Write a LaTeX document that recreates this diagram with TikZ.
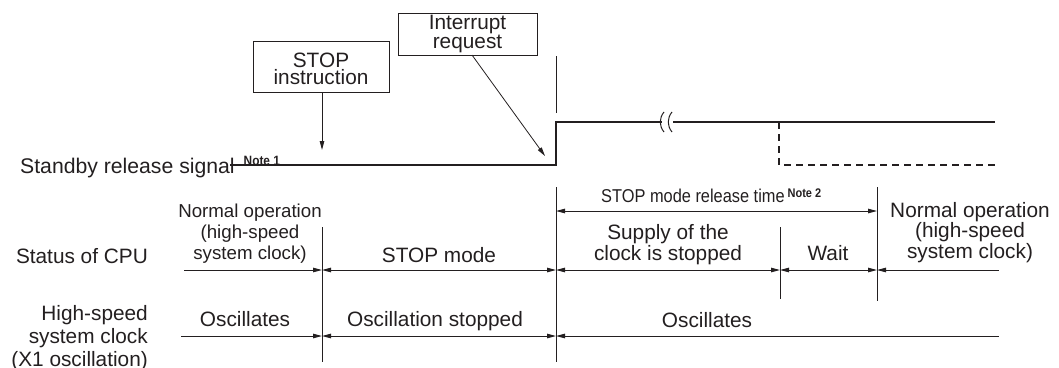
\documentclass[tikz,border=0pt]{standalone}
\usepackage{fontspec}
\setmainfont{Liberation Sans}
\newfontfamily\condfont[FakeStretch=0.88]{Liberation Sans}
\usetikzlibrary{arrows.meta}
\definecolor{ink}{RGB}{35,31,32}
\newcommand{\notefont}{\condfont\bfseries\fontsize{12.5}{12.5}\selectfont}
\tikzset{
  lbl/.style={inner sep=0pt, text=ink, font=\fontsize{20.8}{21}\selectfont, align=center},
  box/.style={draw=ink, line width=0.9pt, inner sep=0pt, text=ink,
    font=\fontsize{20.8}{17}\selectfont, align=center},
  thinline/.style={draw=ink, line width=1pt},
  arr/.style={thinline, -{Triangle[length=9pt,width=4.5pt]}},
  darr/.style={thinline, {Triangle[length=9pt,width=4.5pt]}-{Triangle[length=9pt,width=4.5pt]}},
  larr/.style={thinline, {Triangle[length=9pt,width=4.5pt]}-},
  sig/.style={draw=ink, line width=2.6pt, line join=miter},
}
\begin{document}
\begin{tikzpicture}[x=1pt,y=-1pt]
\useasboundingbox (0,0) rectangle (1059,367);

% ---------- boxes and their arrows
\node[box, minimum width=136pt, minimum height=51pt] (stop) at (321,66.5)
  {\rule{0pt}{20pt}STOP\\instruction};
\node[box, minimum width=139pt, minimum height=42pt] (intr) at (467.5,34)
  {Interrupt\\request};
\coordinate (stoptip) at (322,150);
\draw[arr] (stop.south -| stoptip) -- (stoptip);
\coordinate (intrfoot) at (472,55);
\coordinate (intrtip) at (545,156);
\draw[arr, line width=0.8pt] (intrfoot) -- (intrtip);

% ---------- texts (multi-line nodes: base = last line)
\node[lbl, anchor=base west, font=\fontsize{21.2}{21}\selectfont] (standby) at (20,173)
  {Standby release signal\hspace{9pt}\raisebox{8pt}{\notefont\fontsize{13.5}{13.5}\selectfont Note 1}};
\node[lbl, anchor=base west, font=\condfont\fontsize{18.6}{20}\selectfont] (reltime) at (601,202)
  {STOP mode release time\hspace{3pt}\raisebox{5pt}{\notefont Note 2}};
\node[lbl, anchor=base, font=\fontsize{18.7}{21}\selectfont] (nop1) at (250,259)
  {Normal operation\\(high-speed\\system clock)};
\node[lbl, anchor=base] (stopmode) at (439,262) {STOP mode};
\node[lbl, anchor=base] (supply) at (668,260) {Supply of the\\clock is stopped};
\node[lbl, anchor=base] (wait) at (828,260) {Wait};
\node[lbl, anchor=base, font=\fontsize{20.8}{20.5}\selectfont] (nop2) at (970,258)
  {Normal operation\\(high-speed\\system clock)};
\node[lbl, anchor=base east] (cpu) at (148,263) {Status of CPU};
\node[lbl, anchor=base east, align=right, font=\fontsize{20.8}{23}\selectfont] (hsc) at (148,366.5)
  {High-speed\\system clock\\(X1 oscillation)};
\node[lbl, anchor=base] (osc1) at (245,326) {Oscillates};
\node[lbl, anchor=base] (osc2) at (435,326) {Oscillation stopped};
\node[lbl, anchor=base] (osc3) at (707,327) {Oscillates};

% ---------- standby release signal
\coordinate (s0) at (230,165);
\coordinate (s1) at (556,165);
\coordinate (s2) at (556,122);
\coordinate (s3) at (995,122);
\draw[sig] (s0) -- (s1) -- (s2) -- (s3);
\coordinate (d0) at (779,122);
\coordinate (d1) at (779,165);
\coordinate (d2) at (997,165);
\draw[sig, line width=2.4pt, dash pattern=on 7pt off 5pt] (d0) -- (d1) -- (d2);
% break mark
\fill[white] (662,116) rectangle (673,128);
\draw[thinline] (664,112) .. controls (659,118) and (659,126) .. (664,132);
\draw[thinline] (672,112) .. controls (667,118) and (667,126) .. (672,132);

% ---------- vertical boundary lines
\coordinate (v1t) at (322,227); \coordinate (v1b) at (322,362);
\coordinate (v2a) at (556,56);  \coordinate (v2b) at (556,113);
\coordinate (v2c) at (556,187); \coordinate (v2d) at (556,362);
\coordinate (v3t) at (780,227); \coordinate (v3b) at (780,299);
\coordinate (v4t) at (877,187); \coordinate (v4b) at (877,301);
\draw[thinline] (v1t) -- (v1b);
\draw[thinline] (v2a) -- (v2b);
\draw[thinline] (v2c) -- (v2d);
\draw[thinline] (v3t) -- (v3b);
\draw[thinline] (v4t) -- (v4b);

% ---------- time arrows
\coordinate (rA) at (556,211); \coordinate (rB) at (877,211);
\draw[darr] (rA) -- (rB);

\coordinate (sA) at (184,270); \coordinate (sB) at (322,270);
\coordinate (sC) at (556,270); \coordinate (sD) at (780,270);
\coordinate (sE) at (877,270); \coordinate (sF) at (999,270);
\draw[arr] (sA) -- (sB);
\draw[darr] (sB) -- (sC);
\draw[darr] (sC) -- (sD);
\draw[darr] (sD) -- (sE);
\draw[larr] (sE) -- (sF);

\coordinate (oA) at (181,336); \coordinate (oB) at (322,336);
\coordinate (oC) at (556,336); \coordinate (oD) at (999,336);
\draw[arr] (oA) -- (oB);
\draw[darr] (oB) -- (oC);
\draw[larr] (oC) -- (oD);
\end{tikzpicture}
\end{document}
